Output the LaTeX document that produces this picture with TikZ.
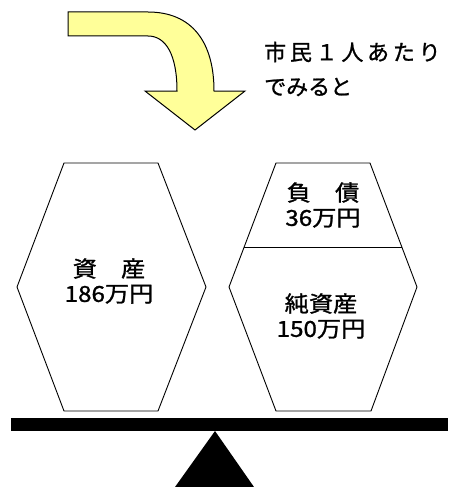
\documentclass[tikz,border=0pt]{standalone}
\usepackage{fontspec}
\newfontfamily\jpwide[FakeStretch=1.1,FakeBold=1.2]{Noto Sans CJK JP}
\newfontfamily\jpsp[LetterSpace=17,FakeBold=1]{Noto Sans CJK JP}
\newfontfamily\jpspb[FakeBold=1]{Noto Sans CJK JP}
\begin{document}
\begin{tikzpicture}[x=1pt,y=-1pt,
  hexa/.style={draw=black,line width=0.9pt,line join=miter},
  lbl/.style={font=\jpwide\fontsize{22}{25}\selectfont,align=center,inner sep=0pt},
  note/.style={font=\jpsp\fontsize{22}{24}\selectfont,anchor=west,inner sep=0pt}]
\useasboundingbox (0,0) rectangle (448,487);
% bent arrow
\draw[fill={rgb,255:red,255;green,255;blue,153},line width=1pt,line join=miter]
  (68,12) -- (148,12) .. controls (192,12) and (214,42) .. (214,91)
  -- (245,91) -- (195,130) -- (145,91) -- (177,91)
  .. controls (177,55) and (166,36) .. (148,36) -- (68,36) -- cycle;
% note text
\node[note] (n1) at (264,52) {市民１人あたり};
\node[note,font=\jpspb\fontsize{22}{24}\selectfont] (n2) at (264,87) {でみると};
% left hexagon
\draw[hexa] (64,163) -- (158,163) -- (206,287) -- (158,411) -- (64,411) -- (17,287) -- cycle;
% right hexagon
\draw[hexa] (276,163) -- (370,163) -- (417,287) -- (371,411) -- (276,411) -- (229,287) -- cycle;
\coordinate (dl) at (244,247);
\coordinate (dr) at (402,247);
\draw[hexa] (dl) -- (dr);
% labels
\node[lbl] (asset) at (109,281) {資　産\\186万円};
\node[lbl] (debt) at (323,205) {負　債\\36万円};
\node[lbl] (net) at (321,316) {純資産\\150万円};
% beam and fulcrum
\fill[black] (11,418) rectangle (448,431);
\fill[black] (215,431) -- (254,487) -- (175,487) -- cycle;
\end{tikzpicture}
\end{document}
